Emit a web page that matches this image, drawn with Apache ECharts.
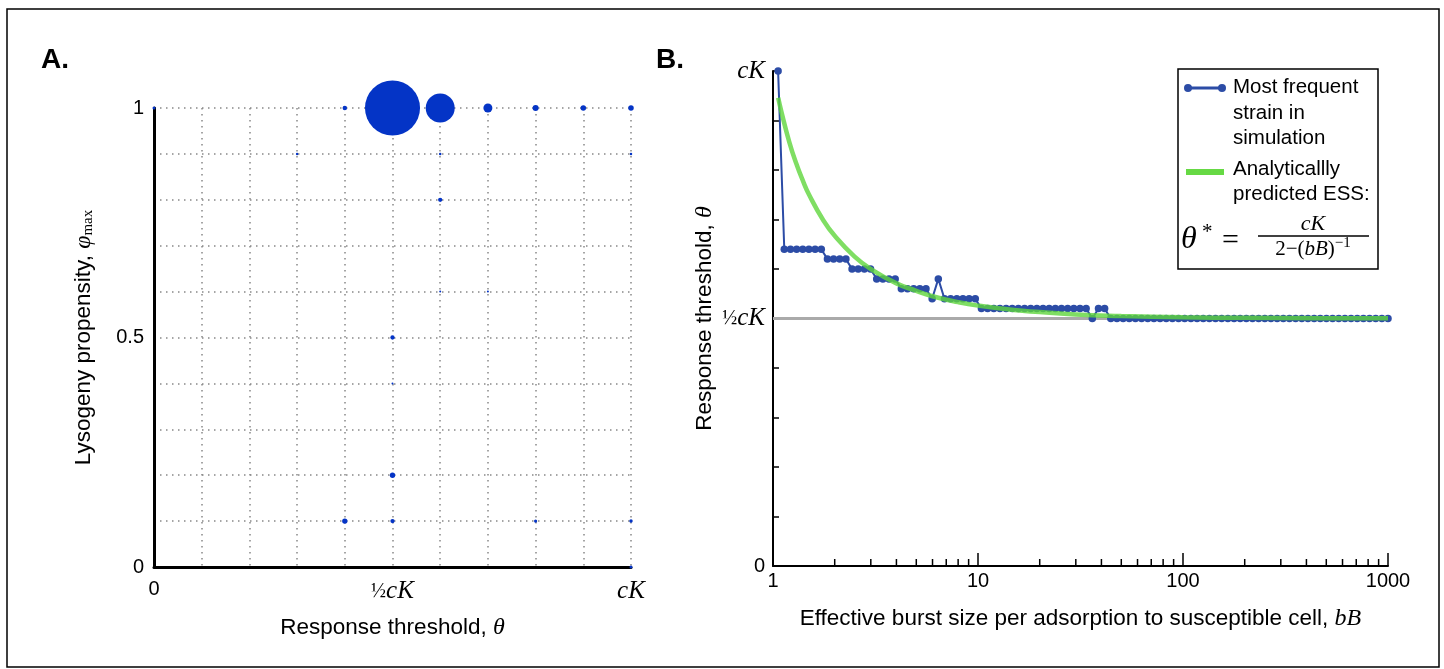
<!DOCTYPE html>
<html><head><meta charset="utf-8">
<script src="https://cdn.jsdelivr.net/npm/echarts@6/dist/echarts.min.js"></script>
<style>html,body{margin:0;padding:0;background:#fff}#c{width:1444px;height:669px}</style>
</head><body><div id="c"></div>
<script>
// ---------- Panel A: strain abundance (bubble) ----------
const aTheta = [0, 0.4, 0.5, 0.6, 0.7, 0.8, 0.9, 1.0, 0.3, 0.6, 1.0, 0.6, 0.6, 0.7, 0.5, 0.5, 0.5, 0.4, 0.5, 0.8, 1.0, 1.0];
const aPhi   = [1, 1, 1, 1, 1, 1, 1, 1, 0.9, 0.9, 0.9, 0.8, 0.6, 0.6, 0.5, 0.4, 0.2, 0.1, 0.1, 0.1, 0.1, 0];
const aFreq  = [0.0022, 0.005, 0.74, 0.205, 0.0198, 0.0088, 0.0074, 0.0074, 0.0015, 0.0015, 0.0015, 0.0045, 0.001, 0.001, 0.0045, 0.001, 0.007, 0.007, 0.0045, 0.0025, 0.003, 0.0022];

// ---------- Panel B: most frequent strain vs burst size ----------
const bBurst = [1.059,1.135,1.217,1.304,1.397,1.497,1.605,1.720,1.843,1.975,
  2.116,2.268,2.430,2.604,2.791,2.991,3.205,3.435,3.681,3.945,
  4.227,4.530,4.855,5.203,5.575,5.975,6.403,6.862,7.353,7.880,
  8.445,9.050,9.698,10.39,11.14,11.94,12.79,13.71,14.69,15.74,
  16.87,18.08,19.37,20.76,22.25,23.84,25.55,27.38,29.34,31.44,
  33.69,36.11,38.70,41.47,44.44,47.62,51.04,54.69,58.61,62.81,
  67.31,72.13,77.30,82.84,88.78,95.14,101.9,109.3,117.1,125.5,
  134.5,144.1,154.4,165.5,177.4,190.1,203.7,218.3,233.9,250.7,
  268.6,287.9,308.5,330.6,354.3,379.7,406.9,436.1,467.3,500.8,
  536.7,575.1,616.3,660.5,707.8,758.5,812.9,871.1,933.6,1000];
const bTheta = [1.0,0.64,0.64,0.64,0.64,0.64,0.64,0.64,0.62,0.62,
  0.62,0.62,0.60,0.60,0.60,0.60,0.58,0.58,0.58,0.58,
  0.56,0.56,0.56,0.56,0.56,0.54,0.58,0.54,0.54,0.54,
  0.54,0.54,0.54,0.52,0.52,0.52,0.52,0.52,0.52,0.52,
  0.52,0.52,0.52,0.52,0.52,0.52,0.52,0.52,0.52,0.52,
  0.52,0.50,0.52,0.52,0.50,0.50,0.50,0.50,0.50,0.50,
  0.50,0.50,0.50,0.50,0.50,0.50,0.50,0.50,0.50,0.50,
  0.50,0.50,0.50,0.50,0.50,0.50,0.50,0.50,0.50,0.50,
  0.50,0.50,0.50,0.50,0.50,0.50,0.50,0.50,0.50,0.50,
  0.50,0.50,0.50,0.50,0.50,0.50,0.50,0.50,0.50,0.50];
const essBurst = [1.06, 1.1, 1.2, 1.3, 1.4, 1.5, 1.75, 2, 2.5, 3, 4, 5, 6, 8, 10, 15, 20, 30, 50, 100, 200, 500, 1000];
const essTheta = [0.946, 0.917, 0.857, 0.8125, 0.778, 0.75, 0.70, 0.667, 0.625, 0.60, 0.571, 0.556, 0.545, 0.533, 0.526, 0.517, 0.513, 0.508, 0.505, 0.5025, 0.5013, 0.5005, 0.5003];
const refBurst = [1, 1000];
const refTheta = [0.5, 0.5];
const minorTicks = [2,3,4,5,6,7,8,9,20,30,40,50,60,70,80,90,200,300,400,500,600,700,800,900];

const sans = 'Liberation Sans, Arial, Helvetica, sans-serif';
const serif = 'Liberation Serif, DejaVu Serif, serif';
const near = (a, b) => Math.abs(a - b) < 1e-6;

const mathRich = {
  m: {fontFamily: serif, fontStyle: 'italic', fontSize: 25, color: '#000'},
  h: {fontFamily: serif, fontSize: 20, color: '#000'}
};
const nameRich = {
  t: {fontFamily: sans, fontSize: 22.5, color: '#000'},
  m: {fontFamily: serif, fontStyle: 'italic', fontSize: 24, color: '#000'}
};

const chart = echarts.init(document.getElementById('c'), null, {renderer: 'canvas'});
chart.setOption({
  animation: false,
  backgroundColor: '#fff',
  grid: [
    {left: 154, top: 108, width: 477, height: 459},
    {left: 773, top: 71, width: 615, height: 495}
  ],
  xAxis: [
    {
      gridIndex: 0, type: 'value', min: 0, max: 1, interval: 0.1,
      axisLine: {lineStyle: {color: '#000', width: 3}},
      axisTick: {show: false},
      splitLine: {show: true, lineStyle: {color: '#888', width: 1.5, type: [1.5, 4.5]}},
      axisLabel: {
        margin: 12, fontFamily: sans, fontSize: 20, color: '#000',
        formatter: v => near(v, 0) ? '0' : near(v, 0.5) ? '{h|½}{m|cK}' : near(v, 1) ? '{m|cK}' : '',
        rich: mathRich
      },
      name: '{t|Response threshold, }{m|θ}', nameLocation: 'middle', nameGap: 49,
      nameTextStyle: {rich: nameRich}
    },
    {
      gridIndex: 1, type: 'log', logBase: 10, min: 1, max: 1000,
      axisLine: {lineStyle: {color: '#000', width: 2}},
      axisTick: {show: true, inside: true, length: 13, lineStyle: {color: '#000', width: 1.5}},
      splitLine: {show: false},
      axisLabel: {margin: 5, fontFamily: sans, fontSize: 20, color: '#000', formatter: v => String(Math.round(v))},
      name: '{t|Effective burst size per adsorption to susceptible cell, }{m|bB}', nameLocation: 'middle', nameGap: 41,
      nameTextStyle: {rich: nameRich}
    }
  ],
  yAxis: [
    {
      gridIndex: 0, type: 'value', min: 0, max: 1, interval: 0.1,
      axisLine: {show: true, lineStyle: {color: '#000', width: 3}},
      axisTick: {show: false},
      splitLine: {show: true, lineStyle: {color: '#888', width: 1.5, type: [1.5, 4.5]}},
      axisLabel: {
        margin: 10, fontFamily: sans, fontSize: 20, color: '#000',
        formatter: v => near(v, 0) ? '0' : near(v, 0.5) ? '0.5' : near(v, 1) ? '1' : ''
      },
      name: '{t|Lysogeny propensity, }{p|φ}{s|max}', nameLocation: 'middle', nameGap: 58, nameRotate: 90,
      nameTextStyle: {rich: {
        t: {fontFamily: sans, fontSize: 22.5, color: '#000'},
        p: {fontFamily: serif, fontStyle: 'italic', fontSize: 24, color: '#000'},
        s: {fontFamily: serif, fontSize: 15, color: '#000', padding: [10, 0, 0, 0]}
      }}
    },
    {
      gridIndex: 1, type: 'value', min: 0, max: 1, interval: 0.1,
      axisLine: {show: true, lineStyle: {color: '#000', width: 2}},
      axisTick: {show: true, inside: true, length: 6, lineStyle: {color: '#000', width: 1.5}},
      splitLine: {show: false},
      axisLabel: {
        margin: 8, fontFamily: sans, fontSize: 20, color: '#000',
        formatter: v => near(v, 0) ? '0' : near(v, 0.5) ? '{h|½}{m|cK}' : near(v, 1) ? '{m|cK}' : '',
        rich: mathRich
      },
      name: '{t|Response threshold, }{m|θ}', nameLocation: 'middle', nameGap: 56, nameRotate: 90,
      nameTextStyle: {rich: nameRich}
    }
  ],
  series: [
    {
      type: 'scatter', xAxisIndex: 0, yAxisIndex: 0, clip: false, z: 5,
      data: aTheta.map((x, i) => [x, aPhi[i], aFreq[i]]),
      symbolSize: d => 64 * Math.sqrt(d[2]),
      itemStyle: {color: '#0434c6', opacity: 1}
    },
    {
      type: 'line', xAxisIndex: 1, yAxisIndex: 1, z: 1,
      data: refBurst.map((x, i) => [x, refTheta[i]]),
      symbol: 'none', lineStyle: {color: '#aaaaaa', width: 3}
    },
    {
      type: 'line', xAxisIndex: 1, yAxisIndex: 1, z: 2,
      data: bBurst.map((x, i) => [x, bTheta[i]]),
      symbol: 'circle', symbolSize: 7.5, showAllSymbol: true,
      lineStyle: {color: '#2c4ca6', width: 2},
      itemStyle: {color: '#2c4ca6'}
    },
    {
      type: 'line', xAxisIndex: 1, yAxisIndex: 1, z: 3, smooth: true,
      data: essBurst.map((x, i) => [x, essTheta[i]]),
      symbol: 'none', lineStyle: {color: '#5fd63c', width: 4.5, opacity: 0.8}
    },
    {
      type: 'custom', xAxisIndex: 1, yAxisIndex: 1, z: 4, silent: true,
      data: minorTicks.map(v => [v, 0]),
      renderItem: (params, api) => {
        const p = api.coord([api.value(0), 0]);
        return {type: 'line', shape: {x1: p[0], y1: p[1], x2: p[0], y2: p[1] - 7}, style: {stroke: '#000', lineWidth: 1.5}};
      }
    }
  ],
  graphic: [
    {type: 'rect', shape: {x: 7, y: 9, width: 1432, height: 658}, style: {fill: 'none', stroke: '#000', lineWidth: 1.5}, silent: true},
    {type: 'text', x: 41, y: 60, style: {text: 'A.', font: 'bold 28px ' + sans, fill: '#000', verticalAlign: 'middle'}},
    {type: 'text', x: 656, y: 60, style: {text: 'B.', font: 'bold 28px ' + sans, fill: '#000', verticalAlign: 'middle'}},
    // legend box
    {type: 'rect', shape: {x: 1178, y: 69, width: 200, height: 200}, style: {fill: '#fff', stroke: '#000', lineWidth: 1.5}, z: 10},
    {type: 'line', shape: {x1: 1187, y1: 88, x2: 1223, y2: 88}, style: {stroke: '#2c4ca6', lineWidth: 3}, z: 11},
    {type: 'circle', shape: {cx: 1188, cy: 88, r: 4}, style: {fill: '#2c4ca6'}, z: 11},
    {type: 'circle', shape: {cx: 1222, cy: 88, r: 4}, style: {fill: '#2c4ca6'}, z: 11},
    {type: 'text', x: 1233, y: 75, z: 11, style: {text: 'Most frequent\nstrain in\nsimulation', font: '20.5px ' + sans, lineHeight: 25.5, fill: '#000', verticalAlign: 'top'}},
    {type: 'rect', shape: {x: 1186, y: 169, width: 38, height: 6}, style: {fill: '#66d944'}, z: 11},
    {type: 'text', x: 1233, y: 157, z: 11, style: {text: 'Analyticallly\npredicted ESS:', font: '20.5px ' + sans, lineHeight: 25, fill: '#000', verticalAlign: 'top'}},
    {type: 'text', x: 1181, y: 240, z: 11, style: {text: 'θ', font: 'italic 32px ' + serif, fill: '#000', verticalAlign: 'middle'}},
    {type: 'text', x: 1202, y: 232, z: 11, style: {text: '*', font: '21px ' + serif, fill: '#000', verticalAlign: 'middle'}},
    {type: 'text', x: 1222, y: 241, z: 11, style: {text: '=', font: '30px ' + serif, fill: '#000', verticalAlign: 'middle'}},
    {type: 'text', x: 1313, y: 224, z: 11, style: {text: 'cK', font: 'italic 22px ' + serif, fill: '#000', align: 'center', verticalAlign: 'middle'}},
    {type: 'line', shape: {x1: 1258, y1: 236, x2: 1369, y2: 236}, style: {stroke: '#000', lineWidth: 1.5}, z: 11},
    {type: 'text', x: 1313, y: 249, z: 11, style: {
      text: '{r|2−(}{i|bB}{r|)}{u|−1}', align: 'center', verticalAlign: 'middle',
      rich: {
        r: {fontFamily: serif, fontSize: 21, fill: '#000'},
        i: {fontFamily: serif, fontStyle: 'italic', fontSize: 21, fill: '#000'},
        u: {fontFamily: serif, fontSize: 15, fill: '#000', padding: [0, 0, 12, 0]}
      }
    }}
  ]
});
</script>
</body></html>
